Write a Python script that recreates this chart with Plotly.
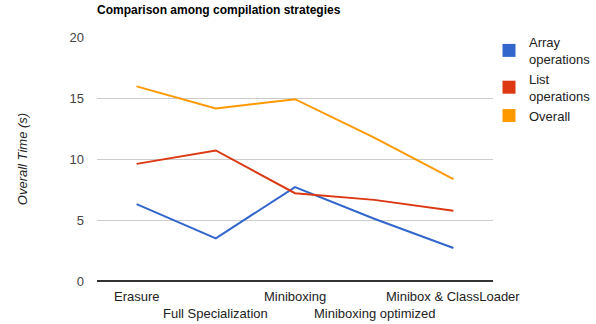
import plotly.graph_objects as go

categories = ["Erasure", "Full Specialization", "Miniboxing", "Miniboxing optimized", "Minibox & ClassLoader"]
array_ops = [6.3, 3.5, 7.7, 5.1, 2.7]
list_ops = [9.6, 10.7, 7.2, 6.65, 5.75]
overall = [15.95, 14.15, 14.9, 11.75, 8.35]
series_names = ["Array<br>operations", "List<br>operations", "Overall"]
colors = ["#3366cc", "#dc3912", "#ff9900"]
y_ticks = [0, 5, 10, 15, 20]

FONT = "Liberation Sans, Arial, sans-serif"

fig = go.Figure()
for name, vals, col in zip(series_names, [array_ops, list_ops, overall], colors):
    fig.add_trace(go.Scatter(x=categories, y=vals, mode="lines", line=dict(color=col, width=2),
                             showlegend=False, hoverinfo="skip"))
for name, col in zip(series_names, colors):
    fig.add_trace(go.Scatter(x=[None], y=[None], mode="markers", name=name,
                             marker=dict(symbol="square", size=13, color=col)))

# staggered category labels
for i, c in enumerate(categories):
    fig.add_annotation(x=c, y=0, xref="x", yref="paper", text=c, showarrow=False,
                       yanchor="top", yshift=-6 if i % 2 == 0 else -23,
                       font=dict(family=FONT, size=13, color="#222"))

fig.update_layout(
    width=596, height=324,
    margin=dict(l=97, r=103, t=37, b=43, autoexpand=False),
    paper_bgcolor="white", plot_bgcolor="white",
    title=dict(text="<b>Comparison among compilation strategies</b>", x=97/596, xanchor="left",
               xref="container", y=1-10/324, yref="container", yanchor="middle",
               font=dict(family=FONT, size=12, color="#000")),
    xaxis=dict(type="category", showticklabels=False, showgrid=False, zeroline=False,
               showline=False, ticks="", range=[-0.5, 4.5], automargin=False),
    yaxis=dict(range=[0, 20], tickvals=y_ticks, showgrid=True, gridcolor="#cccccc", gridwidth=1,
               zeroline=True, zerolinecolor="#333333", zerolinewidth=1.5, ticks="",
               ticklabelstandoff=12, automargin=False,
               tickfont=dict(family=FONT, size=13, color="#444"),
               title=dict(text="<i>Overall Time (s)</i>", standoff=38,
                          font=dict(family=FONT, size=13, color="#222"))),
    legend=dict(xref="container", yref="container", x=489/596, xanchor="left",
                y=1-27/324, yanchor="top", itemwidth=30,
                font=dict(family=FONT, size=13, color="#222"), bgcolor="rgba(0,0,0,0)",
                tracegroupgap=0),
    font=dict(family=FONT),
)

fig.write_html("out.html")
